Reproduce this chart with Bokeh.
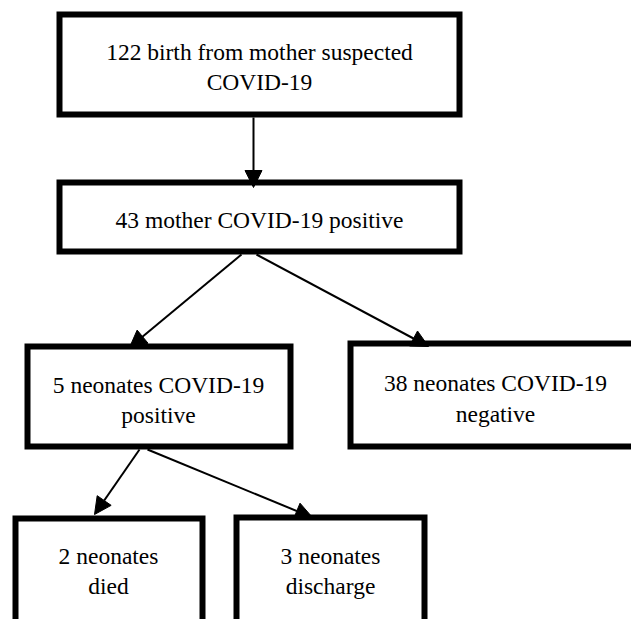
from bokeh.plotting import figure
from bokeh.models import Range1d, ColumnDataSource, Arrow, NormalHead
from bokeh.core.properties import value
from bokeh.embed import file_html
from bokeh.resources import INLINE

# ---- data ----
counts = [122, 43, 5, 38, 2, 3]
line1 = [f"{counts[0]} birth from mother suspected",
         f"{counts[1]} mother COVID-19 positive",
         f"{counts[2]} neonates COVID-19",
         f"{counts[3]} neonates COVID-19",
         f"{counts[4]} neonates",
         f"{counts[5]} neonates"]
line2 = ["COVID-19", "", "positive", "negative", "died", "discharge"]

# ---- layout (page pixel units) ----
box_left = [56, 56, 24, 347, 12, 233]
box_right = [462, 462, 293, 643, 205, 427]
box_top = [11, 179, 343, 340, 515, 514]
box_bottom = [117, 254, 449, 449, 650, 650]
text_x = [259, 259, 158, 495, 108, 330]
line1_y = [51, 219, 384, 382, 555, 555]
line2_y = [81, 219, 414, 413, 585, 585]

arr_x0 = [253, 241, 256, 139, 147]
arr_y0 = [117, 254, 254, 449, 449]
arr_x1 = [253, 129, 428, 94, 312]
arr_y1 = [187, 347, 346, 514, 517]

BW = 6  # border width
W, H = 631, 619

p = figure(width=W, height=H, output_backend="svg", toolbar_location=None,
           x_range=Range1d(0, W), y_range=Range1d(H, 0),
           min_border=0, outline_line_color=None)
p.axis.visible = False
p.grid.visible = False
p.background_fill_color = "white"
p.border_fill_color = "white"

box_src = ColumnDataSource(dict(
    left=[v + BW / 2 for v in box_left],
    right=[v - BW / 2 for v in box_right],
    top=[v + BW / 2 for v in box_top],
    bottom=[v - BW / 2 for v in box_bottom],
))
p.quad(left="left", right="right", top="top", bottom="bottom", source=box_src,
       fill_color="white", line_color="black", line_width=BW, line_join="miter")

arr_src = ColumnDataSource(dict(x0=arr_x0, y0=arr_y0, x1=arr_x1, y1=arr_y1))
p.add_layout(Arrow(end=NormalHead(size=17, fill_color="black", line_color="black", line_width=1),
                   x_start="x0", y_start="y0", x_end="x1", y_end="y1",
                   source=arr_src, line_color="black", line_width=2))

t1 = ColumnDataSource(dict(x=text_x, y=line1_y, t=line1))
t2_idx = [i for i in range(len(line2)) if line2[i]]
t2 = ColumnDataSource(dict(x=[text_x[i] for i in t2_idx],
                           y=[line2_y[i] for i in t2_idx],
                           t=[line2[i] for i in t2_idx]))
for src in (t1, t2):
    p.text(x="x", y="y", text="t", source=src, text_align="center",
           text_baseline="middle", text_font=value("'Liberation Serif', 'Times New Roman', serif"),
           text_font_size="23.5px", text_color="black")

open("out.html", "w").write(file_html(p, INLINE))
